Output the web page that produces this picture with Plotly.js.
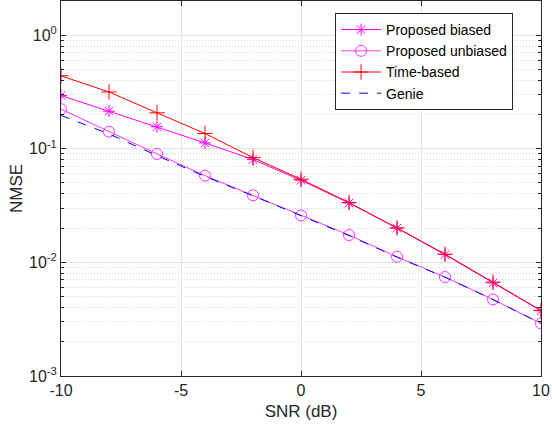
<!DOCTYPE html>
<html>
<head>
<meta charset="utf-8">
<script src="https://cdn.plot.ly/plotly-3.0.1.min.js"></script>
<style>html,body{margin:0;padding:0;background:#fff;}#plot{width:552px;height:430px;}</style>
</head>
<body>
<div id="plot"></div>
<script>
const snr = [-10, -8, -6, -4, -2, 0, 2, 4, 6, 8, 10];
const proposedBiased = [0.294, 0.214, 0.156, 0.1125, 0.0803, 0.0528, 0.0333, 0.0200, 0.0117, 0.0066, 0.00375];
const proposedUnbiased = [0.223, 0.141, 0.090, 0.058, 0.0389, 0.0259, 0.0174, 0.0112, 0.00743, 0.00472, 0.0029];
const timeBased = [0.438, 0.316, 0.207, 0.136, 0.0836, 0.0539, 0.0336, 0.0201, 0.0118, 0.0067, 0.00378];
const genie = [0.197, 0.135, 0.087, 0.057, 0.0385, 0.0258, 0.0172, 0.0111, 0.0074, 0.0047, 0.0029];
const seriesNames = ['Proposed biased', 'Proposed unbiased', 'Time-based', 'Genie'];
const yTickVals = [0.001, 0.01, 0.1, 1];
const yTickText = ['10<sup>-3</sup>', '10<sup>-2</sup>', '10<sup>-1</sup>', '10<sup>0</sup>'];
const xTickVals = [-10, -5, 0, 5, 10];
const xTickText = ['-10', '-5', '0', '5', '10'];

const minorVals = [];
for (let e = -3; e <= 0; e++) {
  for (let m = 2; m <= 9; m++) minorVals.push(m * Math.pow(10, e));
}

const font = 'Liberation Sans, Arial, Helvetica, sans-serif';
const ink = '#262626';
const traces = [
  {x: snr, y: proposedBiased, name: seriesNames[0], mode: 'lines+markers',
   line: {color: '#ff00ff', width: 1}, marker: {symbol: 'asterisk-open', size: 10, color: '#ff00ff', line: {color: '#ff00ff', width: 1}}},
  {x: snr, y: proposedUnbiased, name: seriesNames[1], mode: 'lines+markers',
   line: {color: '#ff33ff', width: 1}, marker: {symbol: 'circle-open', size: 11, color: '#ff33ff', line: {color: '#ff33ff', width: 1}}},
  {x: snr, y: timeBased, name: seriesNames[2], mode: 'lines+markers',
   line: {color: '#ff0000', width: 1}, marker: {symbol: 'cross-thin-open', size: 11, color: '#ff0000', line: {color: '#ff0000', width: 1}}},
  {x: snr, y: genie, name: seriesNames[3], mode: 'lines',
   line: {color: '#0000ff', width: 1, dash: 'dash'}}
];

const layout = {
  width: 552, height: 430,
  margin: {l: 61, r: 11, t: 1, b: 54},
  paper_bgcolor: '#fff', plot_bgcolor: '#fff',
  font: {family: font, size: 15, color: ink},
  showlegend: true,
  legend: {x: 0.571, y: 0.968, xanchor: 'left', yanchor: 'top', bgcolor: '#fff',
           bordercolor: ink, borderwidth: 1, font: {family: font, size: 14, color: '#000'},
           tracegroupgap: 0, itemwidth: 40},
  xaxis: {range: [-10, 10], tickvals: xTickVals, ticktext: xTickText, ticks: 'inside', ticklen: 5, tickcolor: ink,
          showline: true, linecolor: ink, linewidth: 1, mirror: 'ticks',
          showgrid: true, gridcolor: '#e3e3e3', gridwidth: 1, zeroline: false,
          tickfont: {family: font, size: 16, color: ink},
          title: {text: 'SNR (dB)', font: {family: font, size: 17, color: ink}, standoff: 6}},
  yaxis: {type: 'log', range: [-3, 0.3], tickvals: yTickVals, ticktext: yTickText,
          ticks: 'inside', ticklen: 5, tickcolor: ink,
          showline: true, linecolor: ink, linewidth: 1, mirror: 'ticks',
          showgrid: true, gridcolor: '#e3e3e3', gridwidth: 1, zeroline: false,
          tickfont: {family: font, size: 16, color: ink},
          minor: {tickvals: minorVals, ticks: 'inside', ticklen: 3, tickcolor: ink,
                  showgrid: true, gridcolor: '#d6d6d6', griddash: '1px,2px', gridwidth: 1},
          title: {text: 'NMSE', font: {family: font, size: 17, color: ink}, standoff: 2}}
};

Plotly.newPlot('plot', traces, layout, {displayModeBar: false, staticPlot: true});
</script>
</body>
</html>
